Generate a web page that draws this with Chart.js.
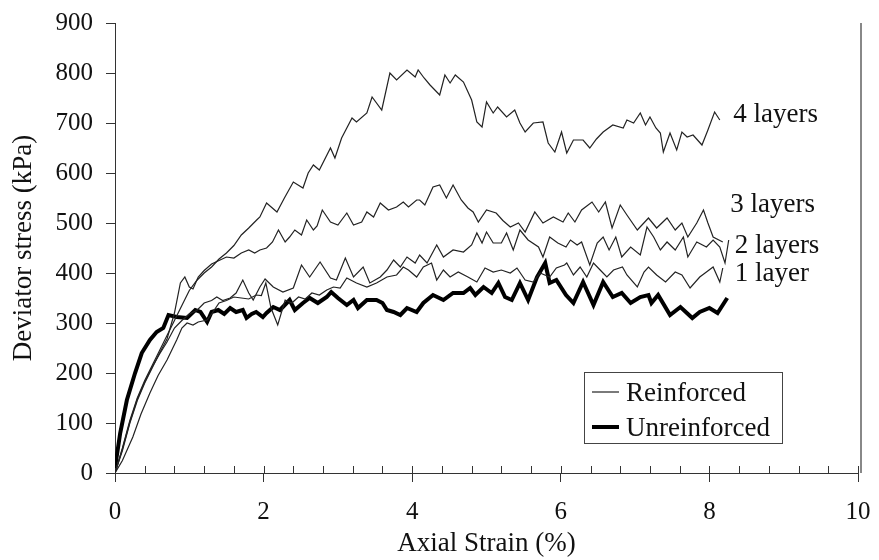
<!DOCTYPE html>
<html>
<head>
<meta charset="utf-8">
<script src="https://cdn.jsdelivr.net/npm/chart.js@4.4.1/dist/chart.umd.min.js"></script>
<style>
  html, body { margin: 0; padding: 0; background: #fff; }
  canvas { display: block; }
</style>
</head>
<body>
<canvas id="myChart" width="879" height="560"></canvas>
<script>
// axial strain (%) , deviator stress (kPa)
var fourLayers = [[0,0],[0.1,50],[0.2,105],[0.3,150],[0.4,185],[0.5,215],[0.6,245],[0.7,275],[0.8,305],[0.9,335],[1.0,365],[1.1,385],[1.2,400],[1.3,412],[1.4,428],[1.5,440],[1.6,455],[1.7,476],[1.8,490],[1.9,505],[1.95,512],[2.04,540],[2.18,522],[2.28,550],[2.4,582],[2.53,570],[2.6,600],[2.67,616],[2.75,606],[2.9,650],[2.96,630],[3.05,670],[3.19,710],[3.25,702],[3.39,720],[3.46,752],[3.59,726],[3.7,800],[3.79,786],[3.93,806],[4.04,792],[4.08,806],[4.16,790],[4.24,776],[4.37,756],[4.44,796],[4.51,780],[4.58,796],[4.69,782],[4.8,746],[4.87,702],[4.94,692],[5.0,742],[5.09,720],[5.15,732],[5.27,712],[5.38,726],[5.45,700],[5.52,682],[5.63,700],[5.76,702],[5.83,660],[5.92,642],[6.01,682],[6.08,640],[6.17,666],[6.3,666],[6.39,650],[6.48,668],[6.57,682],[6.7,696],[6.84,690],[6.89,706],[6.98,700],[7.07,720],[7.14,696],[7.2,712],[7.28,690],[7.34,680],[7.38,642],[7.47,680],[7.56,646],[7.63,682],[7.7,672],[7.78,676],[7.9,656],[7.98,686],[8.07,722],[8.14,706]];

var threeLayers = [[0,0],[0.1,45],[0.2,100],[0.3,145],[0.4,180],[0.5,210],[0.6,240],[0.7,268],[0.8,320],[0.88,380],[0.94,392],[1.0,372],[1.05,368],[1.12,392],[1.2,405],[1.3,418],[1.4,425],[1.5,432],[1.6,430],[1.7,440],[1.8,446],[1.88,440],[1.95,446],[2.04,450],[2.12,462],[2.2,486],[2.29,462],[2.35,472],[2.42,486],[2.51,476],[2.58,506],[2.67,486],[2.72,494],[2.79,526],[2.9,502],[3.0,496],[3.12,520],[3.21,496],[3.32,502],[3.39,522],[3.48,512],[3.57,540],[3.68,526],[3.79,532],[3.88,542],[3.95,532],[4.06,546],[4.1,546],[4.17,536],[4.28,572],[4.37,576],[4.46,550],[4.55,576],[4.66,546],[4.75,530],[4.82,522],[4.89,502],[5.0,526],[5.13,520],[5.22,505],[5.32,492],[5.43,500],[5.52,482],[5.65,522],[5.76,500],[5.9,512],[6.03,502],[6.1,520],[6.19,502],[6.28,526],[6.42,542],[6.51,522],[6.6,542],[6.69,490],[6.8,536],[6.89,516],[7.03,486],[7.18,510],[7.29,490],[7.43,510],[7.54,486],[7.63,500],[7.71,472],[7.83,500],[7.92,526],[7.98,500],[8.05,472],[8.18,462]];

var twoLayers = [[0,0],[0.1,48],[0.2,102],[0.3,148],[0.4,182],[0.5,212],[0.6,238],[0.7,262],[0.8,290],[0.9,305],[1.0,318],[1.1,325],[1.2,340],[1.3,345],[1.37,352],[1.45,345],[1.55,350],[1.63,360],[1.72,386],[1.8,360],[1.86,346],[1.95,372],[2.02,388],[2.13,372],[2.26,362],[2.4,370],[2.51,416],[2.62,392],[2.76,422],[2.9,390],[2.98,386],[3.1,430],[3.21,392],[3.34,412],[3.43,380],[3.57,392],[3.66,406],[3.75,426],[3.84,412],[3.93,432],[4.04,420],[4.1,436],[4.2,420],[4.33,456],[4.42,432],[4.55,446],[4.69,442],[4.8,456],[4.87,480],[4.94,460],[5.0,482],[5.09,460],[5.2,460],[5.27,480],[5.36,446],[5.45,486],[5.56,466],[5.7,452],[5.76,432],[5.85,472],[5.96,460],[6.07,452],[6.13,466],[6.22,456],[6.28,462],[6.39,416],[6.49,460],[6.57,472],[6.65,446],[6.74,472],[6.82,432],[6.94,452],[7.07,436],[7.16,492],[7.25,472],[7.34,446],[7.43,462],[7.54,446],[7.65,472],[7.71,432],[7.83,462],[7.96,452],[8.05,466],[8.14,452],[8.21,420],[8.26,466]];

var oneLayer = [[0,0],[0.1,25],[0.24,72],[0.35,118],[0.47,160],[0.58,195],[0.7,226],[0.83,266],[0.9,290],[0.97,300],[1.05,296],[1.12,302],[1.24,306],[1.3,318],[1.4,340],[1.5,345],[1.6,352],[1.7,350],[1.8,348],[1.9,356],[1.97,355],[2.03,380],[2.1,330],[2.19,296],[2.29,346],[2.38,340],[2.47,352],[2.56,348],[2.65,360],[2.75,356],[2.85,366],[2.94,372],[3.03,370],[3.12,390],[3.25,380],[3.39,372],[3.52,380],[3.66,392],[3.79,396],[3.88,412],[3.95,406],[4.06,392],[4.15,412],[4.26,420],[4.33,386],[4.42,406],[4.51,392],[4.62,402],[4.75,392],[4.87,382],[4.98,410],[5.09,402],[5.2,406],[5.32,400],[5.41,410],[5.52,386],[5.63,382],[5.72,400],[5.85,392],[5.94,410],[6.05,416],[6.08,420],[6.17,396],[6.26,412],[6.35,392],[6.44,420],[6.53,406],[6.62,392],[6.71,406],[6.83,412],[6.89,396],[7.03,372],[7.12,402],[7.18,412],[7.29,396],[7.41,382],[7.54,402],[7.63,396],[7.74,370],[7.87,392],[7.96,402],[8.05,412],[8.14,382],[8.18,410]];

var unreinforced = [[0,10],[0.07,80],[0.16,146],[0.27,200],[0.36,240],[0.47,266],[0.56,282],[0.65,290],[0.72,316],[0.83,312],[0.97,310],[1.08,326],[1.15,322],[1.24,302],[1.3,322],[1.39,326],[1.47,318],[1.55,330],[1.63,322],[1.72,326],[1.77,310],[1.84,318],[1.9,322],[1.99,312],[2.04,320],[2.13,332],[2.22,326],[2.35,346],[2.42,326],[2.53,340],[2.62,350],[2.73,340],[2.85,352],[2.91,362],[3.0,350],[3.12,336],[3.21,346],[3.27,330],[3.39,346],[3.52,346],[3.6,340],[3.66,326],[3.75,322],[3.84,316],[3.93,330],[4.06,322],[4.15,340],[4.28,356],[4.42,346],[4.55,360],[4.69,360],[4.78,370],[4.85,356],[4.96,372],[5.07,360],[5.16,380],[5.25,352],[5.34,346],[5.45,380],[5.56,346],[5.68,392],[5.79,420],[5.85,380],[5.94,386],[6.07,356],[6.17,340],[6.3,382],[6.44,336],[6.57,382],[6.7,352],[6.82,360],[6.94,340],[7.07,352],[7.18,356],[7.22,340],[7.31,356],[7.47,316],[7.61,332],[7.77,310],[7.87,322],[8.0,330],[8.11,320],[8.24,350]];

// text next to the curve ends, in data units (strain, stress at baseline)
var curveLabels = [
  { text: '4 layers', x: 8.32, y: 702 },
  { text: '3 layers', x: 8.28, y: 522 },
  { text: '2 layers', x: 8.34, y: 440 },
  { text: '1 layer',  x: 8.34, y: 384 }
];

var legendItems = ['Reinforced', 'Unreinforced'];

var FONT = "'Liberation Serif', 'Times New Roman', serif";
var INK = '#111';

function toPoints(pairs) {
  return pairs.map(function (p) { return { x: p[0], y: p[1] }; });
}

function thinLine(label, pairs) {
  return {
    label: label,
    data: toPoints(pairs),
    showLine: true,
    borderColor: '#222',
    borderWidth: 1.2,
    pointRadius: 0,
    tension: 0,
    fill: false
  };
}

var extras = {
  id: 'extras',
  afterDraw: function (chart) {
    var ctx = chart.ctx;
    var a = chart.chartArea;
    var x = chart.scales.x;
    var y = chart.scales.y;
    ctx.save();

    // small inner ticks on the strain axis, every 0.4 %
    ctx.strokeStyle = '#333';
    ctx.lineWidth = 1;
    ctx.beginPath();
    for (var i = 1; i <= 25; i++) {
      var px = Math.round(x.getPixelForValue(i * 0.4)) + 0.5;
      ctx.moveTo(px, a.bottom);
      ctx.lineTo(px, a.bottom - 7);
    }
    ctx.stroke();

    // grey frame line on the right
    ctx.strokeStyle = '#888';
    ctx.lineWidth = 2;
    ctx.beginPath();
    ctx.moveTo(861, a.top);
    ctx.lineTo(861, a.bottom);
    ctx.stroke();

    // curve labels
    ctx.font = '27px ' + FONT;
    ctx.fillStyle = INK;
    ctx.textAlign = 'left';
    ctx.textBaseline = 'alphabetic';
    curveLabels.forEach(function (l) {
      ctx.fillText(l.text, x.getPixelForValue(l.x), y.getPixelForValue(l.y));
    });

    // legend box
    ctx.fillStyle = '#fff';
    ctx.fillRect(584, 372, 198, 71);
    ctx.strokeStyle = '#444';
    ctx.lineWidth = 1;
    ctx.strokeRect(584.5, 372.5, 198, 71);

    ctx.strokeStyle = '#222';
    ctx.lineWidth = 1.2;
    ctx.beginPath();
    ctx.moveTo(592, 392);
    ctx.lineTo(619, 392);
    ctx.stroke();

    ctx.strokeStyle = '#000';
    ctx.lineWidth = 4;
    ctx.beginPath();
    ctx.moveTo(592, 427);
    ctx.lineTo(619, 427);
    ctx.stroke();

    ctx.fillStyle = INK;
    ctx.fillText(legendItems[0], 626, 401);
    ctx.fillText(legendItems[1], 626, 436);

    ctx.restore();
  }
};

var canvas = document.getElementById('myChart').getContext('2d');

var myChart = new Chart(canvas, {
  type: 'scatter',
  data: {
    datasets: [
      thinLine('4 layers', fourLayers),
      thinLine('3 layers', threeLayers),
      thinLine('2 layers', twoLayers),
      thinLine('1 layer', oneLayer),
      {
        label: 'Unreinforced',
        data: toPoints(unreinforced),
        showLine: true,
        borderColor: '#000',
        borderWidth: 4,
        pointRadius: 0,
        tension: 0,
        fill: false
      }
    ]
  },
  options: {
    responsive: false,
    animation: false,
    devicePixelRatio: 1,
    layout: { padding: { top: 23, right: 21, bottom: 0, left: 0 } },
    plugins: {
      legend: { display: false },
      tooltip: { enabled: false }
    },
    scales: {
      x: {
        type: 'linear',
        min: 0,
        max: 10,
        afterFit: function (s) {
          s.height = 87;
          s.paddingLeft = 0;
          s.paddingRight = 0;
        },
        ticks: {
          stepSize: 2,
          padding: 15,
          maxRotation: 0,
          color: INK,
          font: { family: FONT, size: 25 }
        },
        grid: { drawOnChartArea: false, tickLength: 9, tickColor: '#333', tickWidth: 1 },
        border: { color: '#333', width: 1 },
        title: {
          display: true,
          text: 'Axial Strain (%)',
          color: INK,
          font: { family: FONT, size: 27 },
          padding: { top: 0, bottom: 0 }
        }
      },
      y: {
        type: 'linear',
        min: 0,
        max: 900,
        afterFit: function (s) {
          s.width = 115;
          s.paddingTop = 0;
          s.paddingBottom = 0;
        },
        ticks: {
          stepSize: 100,
          padding: 13,
          color: INK,
          font: { family: FONT, size: 25 }
        },
        grid: { drawOnChartArea: false, tickLength: 9, tickColor: '#333', tickWidth: 1 },
        border: { color: '#333', width: 1 },
        title: {
          display: true,
          text: 'Deviator stress (kPa)',
          color: INK,
          font: { family: FONT, size: 27 },
          padding: { top: 8, bottom: 0 }
        }
      }
    }
  },
  plugins: [extras]
});
</script>
</body>
</html>
